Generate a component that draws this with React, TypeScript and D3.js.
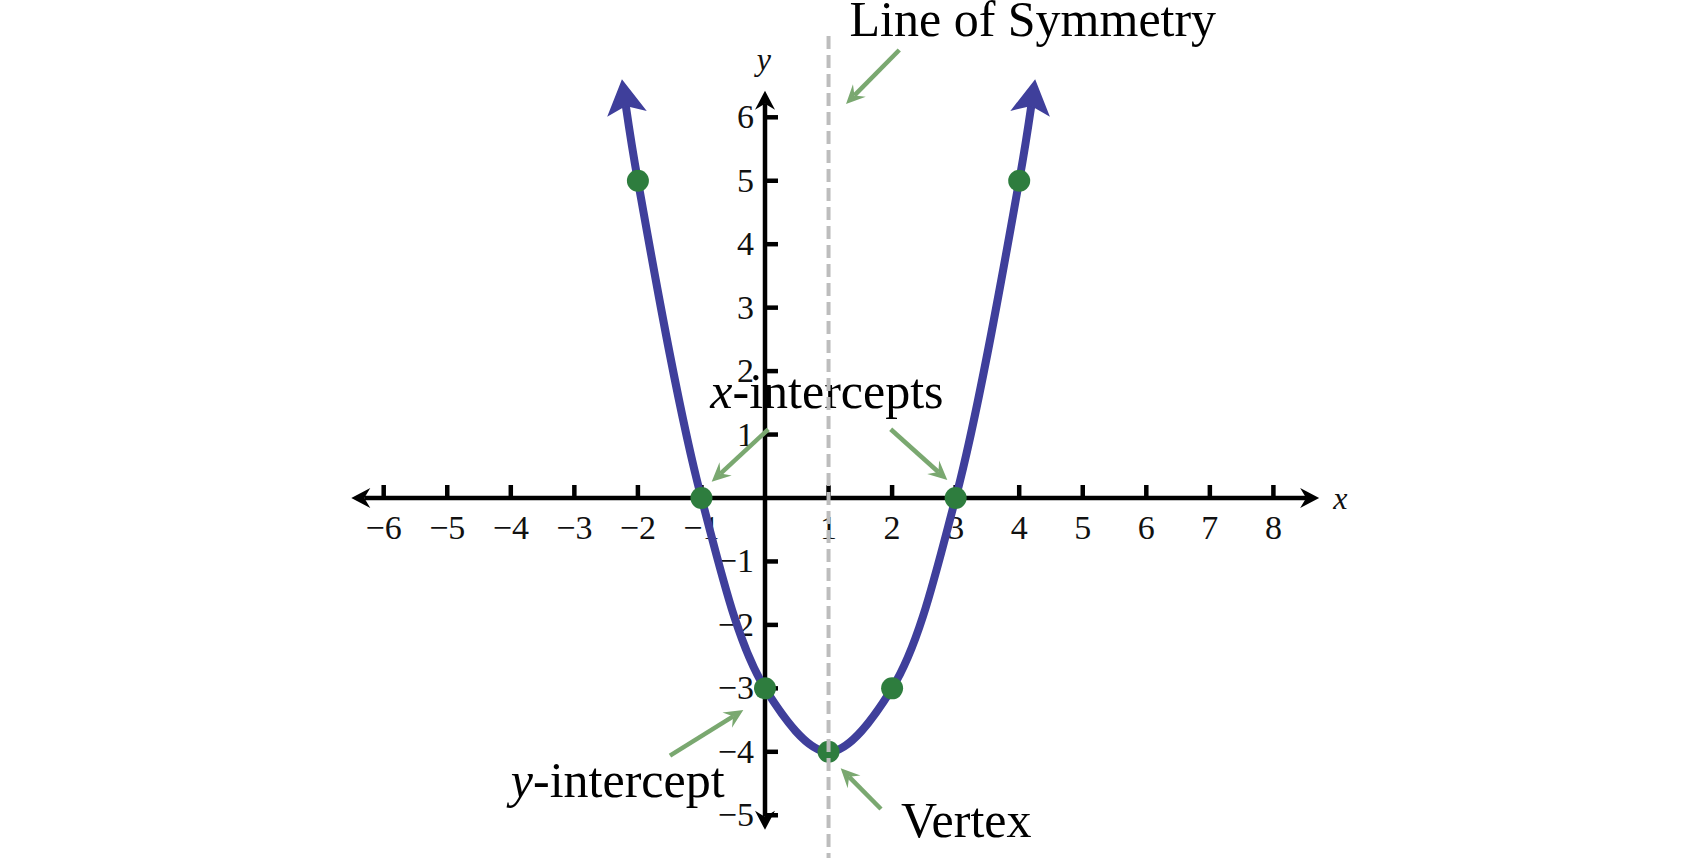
import React from 'react';
import * as d3 from 'd3';

const W = 1700;
const H = 858;

// Tick values
const xTickValues = [-6, -5, -4, -3, -2, -1, 1, 2, 3, 4, 5, 6, 7, 8];
const yTickValues = [-5, -4, -3, -2, -1, 1, 2, 3, 4, 5, 6];

// Highlighted points of the parabola
const pointX = [-2, -1, 0, 1, 2, 3, 4];
const pointY = [5, 0, -3, -4, -3, 0, 5];

// Curve knots (ends are where the arrowheads start)
const curveX = [-2.19, -2, -1, 0, 1, 2, 3, 4, 4.19];
const curveY = [6.18, 5, 0, -3, -4, -3, 0, 5, 6.18];

// Line of symmetry
const symmetryX = 1;

// Axis extents (arrow tips), data units
const xAxisExtent = [-6.51, 8.72];
const yAxisExtent = [-5.23, 6.42];

// Annotation labels (data coords of text start / baseline)
const labelNames = ['Line of Symmetry', 'x-intercepts', 'y-intercept', 'Vertex'];
const labelX = [1.33, -0.86, -4.0, 2.14];
const labelY = [7.28, 1.414, -4.708, -5.338];

// Annotation arrows: tail -> tip (data coords)
const arrowFromX = [2.113, 0.052, 1.978, -1.495, 1.825];
const arrowFromY = [7.061, 1.083, 1.083, -4.061, -4.901];
const arrowToX = [1.275, -0.839, 2.869, -0.341, 1.191];
const arrowToY = [6.21, 0.257, 0.284, -3.341, -4.26];

const xScale = d3.scaleLinear().domain([-6, 8]).range([383.7, 1273.4]);
const yScale = d3.scaleLinear().domain([-5, 6]).range([815.25, 117.3]);

const FONT = '"Liberation Serif", "Times New Roman", Times, serif';
const BLUE = '#3f3f9b';
const DOT = '#2e7d3e';
const ANN = '#7aa870';
const GRAY = '#bdbdbd';

function shorten(x1: number, y1: number, x2: number, y2: number, d: number) {
  const dx = x2 - x1, dy = y2 - y1;
  const len = Math.hypot(dx, dy);
  return [x2 - (dx / len) * d, y2 - (dy / len) * d];
}

function fmt(v: number) {
  return v < 0 ? '\u2212' + Math.abs(v) : String(v);
}

export default function App() {
  const ox = xScale(0);
  const oy = yScale(0);
  const axisTipOffset = 13;
  const annTipOffset = 12;

  const curveData = curveX.map((x, i) => [x, curveY[i]] as [number, number]);
  const line = d3
    .line<[number, number]>()
    .x((d) => xScale(d[0]))
    .y((d) => yScale(d[1]))
    .curve(d3.curveCatmullRom.alpha(0.5));

  const xl = xScale(xAxisExtent[0]) + axisTipOffset;
  const xr = xScale(xAxisExtent[1]) - axisTipOffset;
  const yt = yScale(yAxisExtent[1]) + axisTipOffset;
  const yb = yScale(yAxisExtent[0]) - axisTipOffset;

  return (
    <svg
      width={W}
      height={H}
      viewBox={`0 0 ${W} ${H}`}
      style={{ position: 'absolute', left: 0, top: 0, background: '#fff' }}
    >
      <defs>
        <marker
          id="axisArrow"
          markerUnits="userSpaceOnUse"
          markerWidth="40"
          markerHeight="40"
          refX="0"
          refY="0"
          orient="auto-start-reverse"
          overflow="visible"
          viewBox="-20 -20 40 40"
        >
          <path d="M13,0 L-6,-10 L0,0 L-6,10 Z" fill="#000" />
        </marker>
        <marker
          id="curveArrow"
          markerUnits="userSpaceOnUse"
          markerWidth="80"
          markerHeight="80"
          refX="0"
          refY="0"
          orient="auto-start-reverse"
          overflow="visible"
          viewBox="-40 -40 80 80"
        >
          <path d="M27,0 L-8,-20 L0,0 L-8,20 Z" fill={BLUE} />
        </marker>
        <marker
          id="annArrow"
          markerUnits="userSpaceOnUse"
          markerWidth="40"
          markerHeight="40"
          refX="0"
          refY="0"
          orient="auto"
          overflow="visible"
          viewBox="-20 -20 40 40"
        >
          <path d="M12,0 L-7,-9 L0,0 L-7,9 Z" fill={ANN} />
        </marker>
      </defs>

      {/* Axes */}
      <g stroke="#000" strokeWidth={4.5}>
        <line
          x1={xl}
          y1={oy}
          x2={xr}
          y2={oy}
          markerStart="url(#axisArrow)"
          markerEnd="url(#axisArrow)"
        />
        <line
          x1={ox}
          y1={yt}
          x2={ox}
          y2={yb}
          markerStart="url(#axisArrow)"
          markerEnd="url(#axisArrow)"
        />
        {xTickValues.map((v) => (
          <line key={'xt' + v} x1={xScale(v)} x2={xScale(v)} y1={oy} y2={oy - 13} />
        ))}
        {yTickValues.map((v) => (
          <line key={'yt' + v} x1={ox} x2={ox + 13} y1={yScale(v)} y2={yScale(v)} />
        ))}
      </g>

      {/* Tick labels */}
      <g fontFamily={FONT} fontSize={34} fill="#111">
        {xTickValues.map((v) => (
          <text key={'xl' + v} x={xScale(v)} y={oy + 41} textAnchor="middle">
            {fmt(v)}
          </text>
        ))}
        {yTickValues.map((v) => (
          <text key={'yl' + v} x={ox - 11} y={yScale(v) + 11} textAnchor="end">
            {fmt(v)}
          </text>
        ))}
        <text x={xScale(8.94)} y={yScale(-0.17)} fontStyle="italic" fontSize={32}>
          x
        </text>
        <text x={xScale(-0.13)} y={yScale(6.75)} fontStyle="italic" fontSize={32}>
          y
        </text>
      </g>

      {/* Parabola */}
      <path
        d={line(curveData) || ''}
        fill="none"
        stroke={BLUE}
        strokeWidth={8}
        markerStart="url(#curveArrow)"
        markerEnd="url(#curveArrow)"
      />

      {/* Points */}
      {pointX.map((x, i) => (
        <circle key={'p' + i} cx={xScale(x)} cy={yScale(pointY[i])} r={11} fill={DOT} />
      ))}

      {/* Annotation arrows */}
      <g stroke={ANN} strokeWidth={4.5}>
        {arrowFromX.map((fx, i) => {
          const x1 = xScale(fx), y1 = yScale(arrowFromY[i]);
          const x2 = xScale(arrowToX[i]), y2 = yScale(arrowToY[i]);
          const [ex, ey] = shorten(x1, y1, x2, y2, annTipOffset);
          return (
            <line key={'a' + i} x1={x1} y1={y1} x2={ex} y2={ey} markerEnd="url(#annArrow)" />
          );
        })}
      </g>

      {/* Annotation labels */}
      <g fontFamily={FONT} fontSize={50} fill="#000">
        <text x={xScale(labelX[0])} y={yScale(labelY[0])}>{labelNames[0]}</text>
        <text x={xScale(labelX[1])} y={yScale(labelY[1])}>
          <tspan fontStyle="italic">x</tspan>
          {labelNames[1].slice(1)}
        </text>
        <text x={xScale(labelX[2])} y={yScale(labelY[2])}>
          <tspan fontStyle="italic">y</tspan>
          {labelNames[2].slice(1)}
        </text>
        <text x={xScale(labelX[3])} y={yScale(labelY[3])}>{labelNames[3]}</text>
      </g>

      {/* Line of symmetry */}
      <line
        x1={xScale(symmetryX)}
        x2={xScale(symmetryX)}
        y1={36}
        y2={H}
        stroke={GRAY}
        strokeWidth={4}
        strokeDasharray="13 6"
      />
    </svg>
  );
}
